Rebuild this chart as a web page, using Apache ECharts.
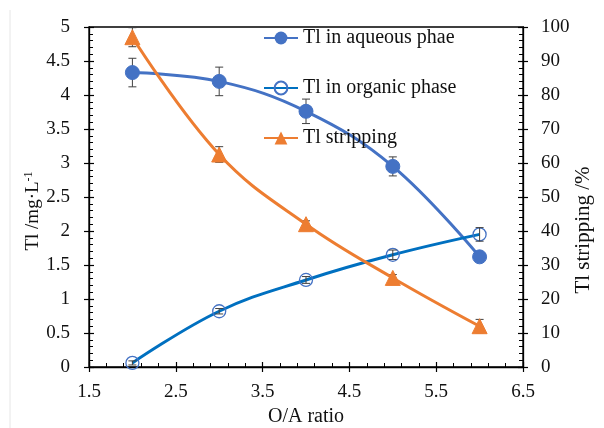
<!DOCTYPE html>
<html>
<head>
<meta charset="utf-8">
<script src="https://cdn.jsdelivr.net/npm/echarts@6/dist/echarts.min.js"></script>
<style>html,body{margin:0;padding:0;background:#fff}#c{width:604px;height:428px}</style>
</head>
<body>
<div id="c"></div>
<script>
// ---- data ----
const ratio = [2, 3, 4, 5, 6];
const aqueous = [4.33, 4.2, 3.76, 2.95, 1.62];
const aqueousErr = [0.21, 0.21, 0.18, 0.14, 0.02];
const organic = [0.06, 0.82, 1.28, 1.65, 1.95];
const organicErr = [0.03, 0.04, 0.05, 0.07, 0.1];
const stripping = [97, 62.5, 42, 26.2, 12];
const strippingErr = [2.8, 2.3, 1, 1, 2];
const seriesNames = ['Tl in aqueous phae', 'Tl in organic phase', 'Tl stripping'];

const FONT = 'Liberation Serif';
const pts = (ys) => ratio.map((x, i) => [x, ys[i]]);
const errs = (ys, es) => ratio.map((x, i) => [x, ys[i] - es[i], ys[i] + es[i]]);

function errRender(params, api) {
  const x = api.value(0);
  const lo = api.coord([x, api.value(1)]);
  const hi = api.coord([x, api.value(2)]);
  const w = 4;
  const st = { stroke: '#404040', lineWidth: 1 };
  return {
    type: 'group',
    children: [
      { type: 'line', shape: { x1: lo[0], y1: lo[1], x2: hi[0], y2: hi[1] }, style: st },
      { type: 'line', shape: { x1: lo[0] - w, y1: lo[1], x2: lo[0] + w, y2: lo[1] }, style: st },
      { type: 'line', shape: { x1: hi[0] - w, y1: hi[1], x2: hi[0] + w, y2: hi[1] }, style: st }
    ]
  };
}

const axisBase = {
  axisLine: { show: true, lineStyle: { color: '#000', width: 1.3 } },
  splitLine: { show: false },
  axisLabel: { color: '#111', fontFamily: FONT, fontSize: 19 },
};
const overlay = {
  axisLine: { show: false }, splitLine: { show: false }, axisLabel: { show: false },
  minorTick: { show: false }, axisTick: { show: true, inside: false, length: 5, lineStyle: { color: '#000', width: 1.2 } }
};

const chart = echarts.init(document.getElementById('c'), null, { renderer: 'canvas' });
chart.setOption({
  animation: false,
  backgroundColor: '#fff',
  grid: { left: 89, right: 81, top: 27, bottom: 61, containLabel: false, outerBoundsMode: 'none', show: true, borderColor: '#000', borderWidth: 1.3 },
  graphic: [
    { type: 'line', shape: { x1: 10, y1: 10, x2: 10, y2: 428 }, style: { stroke: '#e6e6e6', lineWidth: 1 } }
  ],
  legend: {
    data: seriesNames,
    orient: 'vertical',
    left: 258, top: 23,
    itemWidth: 34, itemHeight: 16, itemGap: 30,
    textStyle: { fontFamily: FONT, fontSize: 20, color: '#111' }
  },
  xAxis: [
    Object.assign({}, axisBase, {
      type: 'value', min: 1.5, max: 6.5, interval: 1,
      name: 'O/A ratio', nameLocation: 'middle', nameGap: 38,
      nameTextStyle: { fontFamily: FONT, fontSize: 20, color: '#111' },
      axisTick: { show: true, inside: true, length: 5, lineStyle: { color: '#000', width: 1.2 } },
      minorTick: { show: true, splitNumber: 5, length: 4, lineStyle: { color: '#000', width: 1 } },
      axisLabel: Object.assign({}, axisBase.axisLabel, { margin: 16 })
    }),
    Object.assign({}, overlay, { type: 'value', min: 1.5, max: 6.5, interval: 1, position: 'bottom', offset: 0 })
  ],
  yAxis: [
    Object.assign({}, axisBase, {
      type: 'value', min: 0, max: 5, interval: 0.5, position: 'left',
      name: '{a|Tl /mg·L}{s|-1}', nameLocation: 'middle', nameGap: 46, nameRotate: 90, nameMoveOverlap: false,
      nameTextStyle: { padding: [0, 28, 0, 0], rich: { a: { fontFamily: FONT, fontSize: 19, color: '#111' }, s: { fontFamily: FONT, fontSize: 12, color: '#111', verticalAlign: 'top', padding: [0, 0, 8, 0] } } },
      axisTick: { show: true, inside: true, length: 5, lineStyle: { color: '#000', width: 1.2 } },
      minorTick: { show: true, splitNumber: 5, length: 4, lineStyle: { color: '#000', width: 1 } },
      axisLabel: Object.assign({}, axisBase.axisLabel, { margin: 19 })
    }),
    Object.assign({}, axisBase, {
      type: 'value', min: 0, max: 100, interval: 10, position: 'right',
      name: 'Tl stripping /%', nameLocation: 'middle', nameGap: 50, nameRotate: 90, nameMoveOverlap: false,
      nameTextStyle: { fontFamily: FONT, fontSize: 21, color: '#111', padding: [0, 66, 0, 0] },
      axisTick: { show: true, inside: true, length: 5, lineStyle: { color: '#000', width: 1.2 } },
      minorTick: { show: true, splitNumber: 5, length: 4, lineStyle: { color: '#000', width: 1 } },
      axisLabel: Object.assign({}, axisBase.axisLabel, { margin: 18 })
    }),
    Object.assign({}, overlay, { type: 'value', min: 0, max: 5, interval: 0.5, position: 'left', offset: 0 }),
    Object.assign({}, overlay, { type: 'value', min: 0, max: 100, interval: 10, position: 'right', offset: 0 })
  ],
  series: [
    { type: 'custom', name: 'errA', renderItem: errRender, data: errs(aqueous, aqueousErr), xAxisIndex: 0, yAxisIndex: 0, z: 1, silent: true },
    { type: 'custom', name: 'errO', renderItem: errRender, data: errs(organic, organicErr), xAxisIndex: 0, yAxisIndex: 0, z: 4, silent: true },
    { type: 'custom', name: 'errS', renderItem: errRender, data: errs(stripping, strippingErr), xAxisIndex: 0, yAxisIndex: 1, z: 1, silent: true },
    {
      name: seriesNames[0], type: 'line', data: pts(aqueous), smooth: 0.4, yAxisIndex: 0, z: 3,
      symbol: 'circle', symbolSize: 14,
      lineStyle: { color: '#4472C4', width: 3 },
      itemStyle: { color: '#4472C4', borderColor: '#4472C4' }
    },
    {
      name: seriesNames[1], type: 'line', data: pts(organic), smooth: 0.4, yAxisIndex: 0, z: 3,
      symbol: 'circle', symbolSize: 13,
      lineStyle: { color: '#0070C0', width: 3 },
      itemStyle: { color: 'rgba(255,255,255,0)', borderColor: '#4472C4', borderWidth: 1.3 }
    },
    {
      name: seriesNames[2], type: 'line', data: pts(stripping), smooth: 0.4, yAxisIndex: 1, z: 3,
      symbol: 'triangle', symbolSize: 15,
      lineStyle: { color: '#ED7D31', width: 3 },
      itemStyle: { color: '#ED7D31', borderColor: '#ED7D31' }
    }
  ]
});
</script>
</body>
</html>
